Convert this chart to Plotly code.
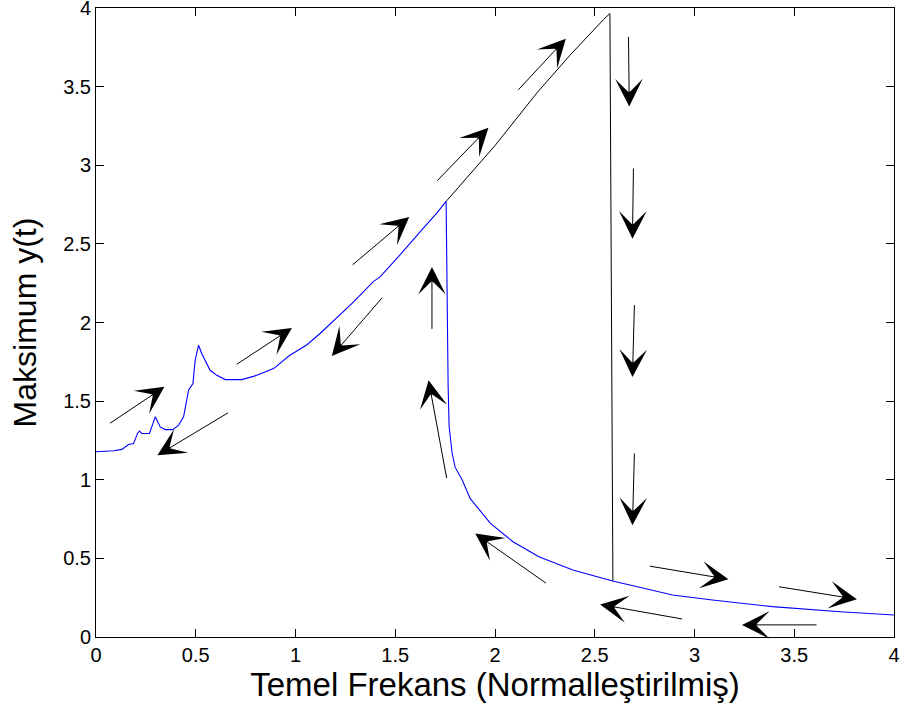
import plotly.graph_objects as go

# Blue branch (sweep up, jump down, decay)
blue_x = [0.0, 0.088, 0.13, 0.163, 0.188, 0.208, 0.218, 0.23, 0.268, 0.297, 0.322, 0.347,
          0.385, 0.414, 0.439, 0.464, 0.486, 0.497, 0.514, 0.531, 0.572, 0.606, 0.648,
          0.731, 0.806, 0.89, 0.97, 1.056, 1.123, 1.223, 1.29, 1.39, 1.424, 1.524, 1.557,
          1.62, 1.708, 1.755, 1.765, 1.77, 1.785, 1.80, 1.835, 1.876, 1.977, 2.09, 2.22,
          2.39, 2.59, 2.89, 3.09, 3.39, 3.73, 4.0]
blue_y = [1.178, 1.184, 1.193, 1.224, 1.23, 1.294, 1.31, 1.294, 1.294, 1.40, 1.336, 1.319,
          1.319, 1.347, 1.40, 1.569, 1.612, 1.76, 1.855, 1.80, 1.696, 1.664, 1.637,
          1.637, 1.664, 1.707, 1.79, 1.857, 1.93, 2.048, 2.13, 2.26, 2.29, 2.43, 2.48,
          2.57, 2.695, 2.77, 1.60, 1.34, 1.17, 1.08, 1.0, 0.88, 0.723, 0.606, 0.51,
          0.426, 0.356, 0.267, 0.235, 0.193, 0.161, 0.14]

# Black branch (continuing upward, then jump down)
black_x = [1.755, 2.0, 2.21, 2.376, 2.543, 2.576, 2.591]
black_y = [2.77, 3.125, 3.46, 3.70, 3.925, 3.965, 0.356]

# Arrows: tail (x0, y0) -> head (x1, y1)
arrow_x0 = [0.063, 0.669, 0.698, 1.441, 1.279, 1.704, 2.110, 2.669, 2.694, 2.699, 2.699,
            1.684, 1.759, 2.263, 2.769, 3.416, 2.945, 3.619]
arrow_y0 = [1.353, 1.431, 1.728, 2.167, 2.359, 2.893, 3.470, 3.826, 2.989, 2.120, 1.177,
            1.950, 1.001, 0.336, 0.452, 0.321, 0.113, 0.077]
arrow_x1 = [0.343, 0.308, 0.982, 1.182, 1.570, 1.967, 2.355, 2.673, 2.689, 2.689, 2.689,
            1.684, 1.667, 1.901, 3.170, 3.814, 2.527, 3.238]
arrow_y1 = [1.591, 1.156, 1.965, 1.787, 2.671, 3.239, 3.805, 3.374, 2.533, 1.654, 0.711,
            2.353, 1.633, 0.658, 0.367, 0.240, 0.207, 0.077]

tick_vals = [0, 0.5, 1, 1.5, 2, 2.5, 3, 3.5, 4]
tick_text = ["0", "0.5", "1", "1.5", "2", "2.5", "3", "3.5", "4"]

fig = go.Figure()
fig.add_trace(go.Scatter(x=black_x, y=black_y, mode="lines",
                         line=dict(color="black", width=1), showlegend=False))
fig.add_trace(go.Scatter(x=blue_x, y=blue_y, mode="lines",
                         line=dict(color="#0000FF", width=1.1), showlegend=False))

for x0, y0, x1, y1 in zip(arrow_x0, arrow_y0, arrow_x1, arrow_y1):
    fig.add_annotation(x=x1, y=y1, ax=x0, ay=y0, xref="x", yref="y", axref="x", ayref="y",
                       text="", showarrow=True, arrowhead=3, arrowsize=4.6,
                       arrowwidth=1, arrowcolor="black", standoff=0)

font_family = "Liberation Sans, Arial, sans-serif"
axis_common = dict(range=[0, 4], tickvals=tick_vals, ticktext=tick_text,
                   showgrid=False, zeroline=False, showline=True, linecolor="black",
                   linewidth=1, mirror="ticks", ticks="inside", ticklen=8,
                   tickcolor="black", automargin=False, ticklabeloverflow="allow",
                   tickfont=dict(size=20, color="black", family=font_family))

fig.update_xaxes(**axis_common,
                 title=dict(text="Temel Frekans (Normalleştirilmiş)",
                            font=dict(size=33, color="black", family=font_family),
                            standoff=6))
fig.update_yaxes(**axis_common,
                 title=dict(text="Maksimum y(t)",
                            font=dict(size=32, color="black", family=font_family),
                            standoff=16))

fig.update_layout(width=902, height=719, plot_bgcolor="white", paper_bgcolor="white",
                  margin=dict(l=96, r=8, t=8, b=82, autoexpand=False),
                  font=dict(family=font_family))

fig.write_html("out.html", config={"displayModeBar": False},
               post_script="document.body.style.margin='0';document.body.style.overflow='hidden';")
